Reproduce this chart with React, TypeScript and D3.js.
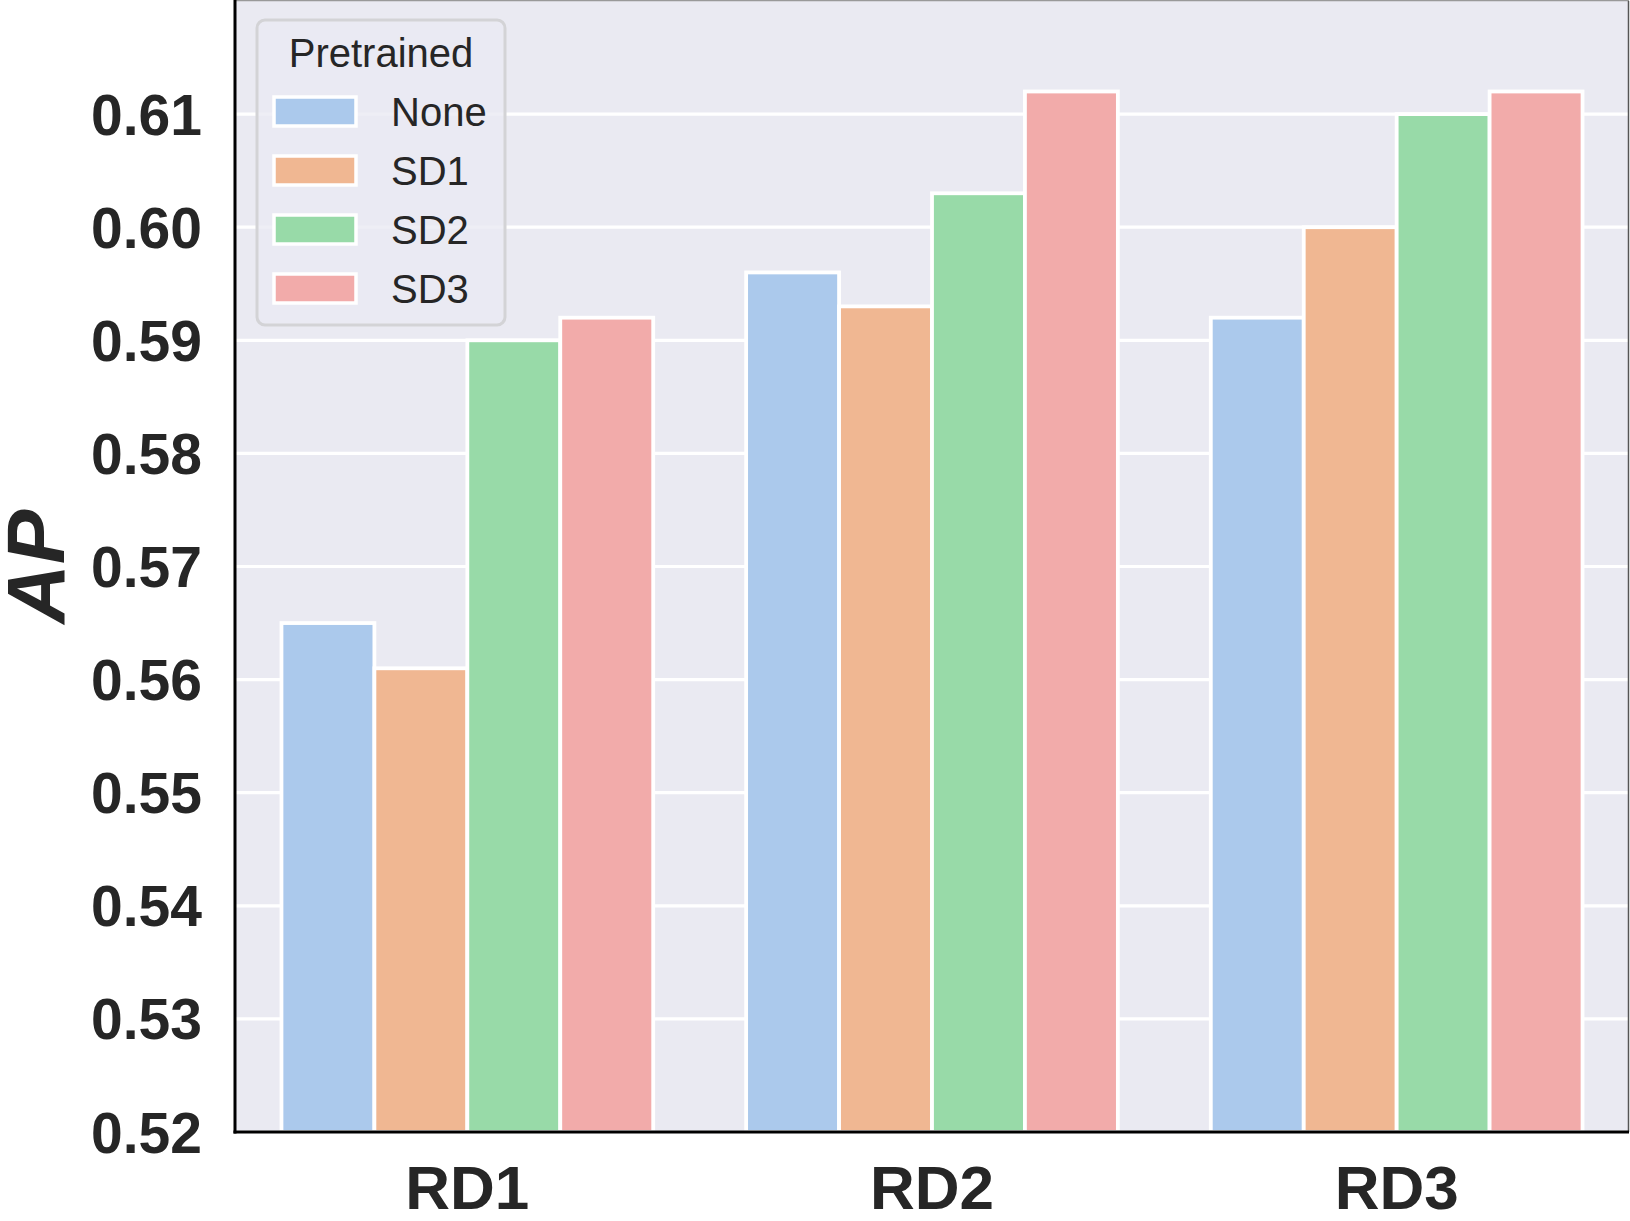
import { useRef, useEffect } from "react"
import * as d3 from "d3"

const categories = ["RD1", "RD2", "RD3"]
const seriesNames = ["None", "SD1", "SD2", "SD3"]
const noneValues = [0.565, 0.596, 0.592]
const sd1Values = [0.561, 0.593, 0.6]
const sd2Values = [0.59, 0.603, 0.61]
const sd3Values = [0.592, 0.612, 0.612]
const yTicks = [0.52, 0.53, 0.54, 0.55, 0.56, 0.57, 0.58, 0.59, 0.6, 0.61]
const colors = ["#abc9ec", "#f0b792", "#98daa8", "#f2abaa"]

export default function App() {
  const svgRef = useRef<SVGSVGElement>(null)

  useEffect(() => {
    if (!svgRef.current) return
    document.body.style.margin = "0"

    const svg = d3.select(svgRef.current)
    svg.selectAll("*").remove()

    const width = 1630
    const height = 1221
    const margin = { top: 1, right: 1, bottom: 89, left: 235 }
    const innerWidth = width - margin.left - margin.right
    const innerHeight = height - margin.top - margin.bottom
    const font = "'Liberation Sans', Arial, Helvetica, sans-serif"
    const textColor = "#262626"

    const series = [noneValues, sd1Values, sd2Values, sd3Values]

    const x = d3.scaleBand().domain(categories).range([0, innerWidth]).paddingInner(0).paddingOuter(0)
    const groupWidth = x.bandwidth() * 0.8
    const xInner = d3.scaleBand().domain(seriesNames).range([0, groupWidth])
    const y = d3.scaleLinear().domain([0.52, 0.62]).range([innerHeight, 0])

    const g = svg.append("g").attr("transform", `translate(${margin.left}, ${margin.top})`)

    // background
    g.append("rect").attr("width", innerWidth).attr("height", innerHeight).attr("fill", "#eaeaf2")

    // grid
    g.selectAll("line.grid")
      .data(yTicks)
      .join("line")
      .attr("class", "grid")
      .attr("x1", 0)
      .attr("x2", innerWidth)
      .attr("y1", (d) => y(d))
      .attr("y2", (d) => y(d))
      .attr("stroke", "white")
      .attr("stroke-width", 3.2)

    // bars
    const barData = categories.flatMap((cat, i) =>
      seriesNames.map((s, j) => ({ cat, series: s, value: series[j][i], color: colors[j] }))
    )

    g.selectAll("rect.bar")
      .data(barData)
      .join("rect")
      .attr("class", "bar")
      .attr("x", (d) => x(d.cat)! + (x.bandwidth() - groupWidth) / 2 + xInner(d.series)!)
      .attr("y", (d) => y(d.value))
      .attr("width", xInner.bandwidth())
      .attr("height", (d) => innerHeight - y(d.value))
      .attr("fill", (d) => d.color)
      .attr("stroke", "white")
      .attr("stroke-width", 3.8)

    // spines
    g.append("line").attr("x1", 0).attr("x2", innerWidth).attr("y1", -0.5).attr("y2", -0.5).attr("stroke", "#999").attr("stroke-width", 1.5)
    g.append("line").attr("x1", innerWidth - 0.5).attr("x2", innerWidth - 0.5).attr("y1", 0).attr("y2", innerHeight).attr("stroke", "#555").attr("stroke-width", 1.5)
    g.append("line").attr("x1", 0).attr("x2", 0).attr("y1", -1).attr("y2", innerHeight + 1.5).attr("stroke", "black").attr("stroke-width", 3)
    g.append("line").attr("x1", -1.5).attr("x2", innerWidth).attr("y1", innerHeight).attr("y2", innerHeight).attr("stroke", "black").attr("stroke-width", 3)

    // y tick labels
    g.selectAll("text.ytick")
      .data(yTicks)
      .join("text")
      .attr("class", "ytick")
      .attr("x", -33)
      .attr("y", (d) => y(d))
      .attr("dy", "0.36em")
      .attr("text-anchor", "end")
      .attr("font-family", font)
      .attr("font-weight", "bold")
      .attr("font-size", "57px")
      .attr("fill", textColor)
      .text((d) => d3.format(".2f")(d))

    // x tick labels
    g.selectAll("text.xtick")
      .data(categories)
      .join("text")
      .attr("class", "xtick")
      .attr("x", (d) => x(d)! + x.bandwidth() / 2)
      .attr("y", innerHeight + 77)
      .attr("text-anchor", "middle")
      .attr("font-family", font)
      .attr("font-weight", "bold")
      .attr("font-size", "62px")
      .attr("fill", textColor)
      .text((d) => d)

    // y axis label
    svg
      .append("text")
      .attr("transform", `translate(64, ${margin.top + innerHeight / 2}) rotate(-90)`)
      .attr("text-anchor", "middle")
      .attr("font-family", font)
      .attr("font-weight", "bold")
      .attr("font-style", "italic")
      .attr("font-size", "82px")
      .attr("fill", textColor)
      .text("AP")

    // legend
    const legend = svg.append("g").attr("transform", "translate(257, 20)")
    legend
      .append("rect")
      .attr("width", 248)
      .attr("height", 305)
      .attr("rx", 8)
      .attr("fill", "#eaeaf2")
      .attr("fill-opacity", 0.8)
      .attr("stroke", "#d3d3d6")
      .attr("stroke-width", 3)

    legend
      .append("text")
      .attr("x", 124)
      .attr("y", 47)
      .attr("text-anchor", "middle")
      .attr("font-family", font)
      .attr("font-size", "40px")
      .attr("fill", textColor)
      .text("Pretrained")

    seriesNames.forEach((name, i) => {
      const row = legend.append("g").attr("transform", `translate(0, ${91 + i * 59})`)
      row
        .append("rect")
        .attr("x", 17)
        .attr("y", -14)
        .attr("width", 82)
        .attr("height", 29)
        .attr("fill", colors[i])
        .attr("stroke", "white")
        .attr("stroke-width", 3.5)
      row
        .append("text")
        .attr("x", 134)
        .attr("y", 15)
        .attr("font-family", font)
        .attr("font-size", "40px")
        .attr("fill", textColor)
        .text(name)
    })
  }, [])

  return (
    <div style={{ width: 1630, height: 1221 }}>
      <svg ref={svgRef} width={1630} height={1221} style={{ display: "block" }} />
    </div>
  )
}
